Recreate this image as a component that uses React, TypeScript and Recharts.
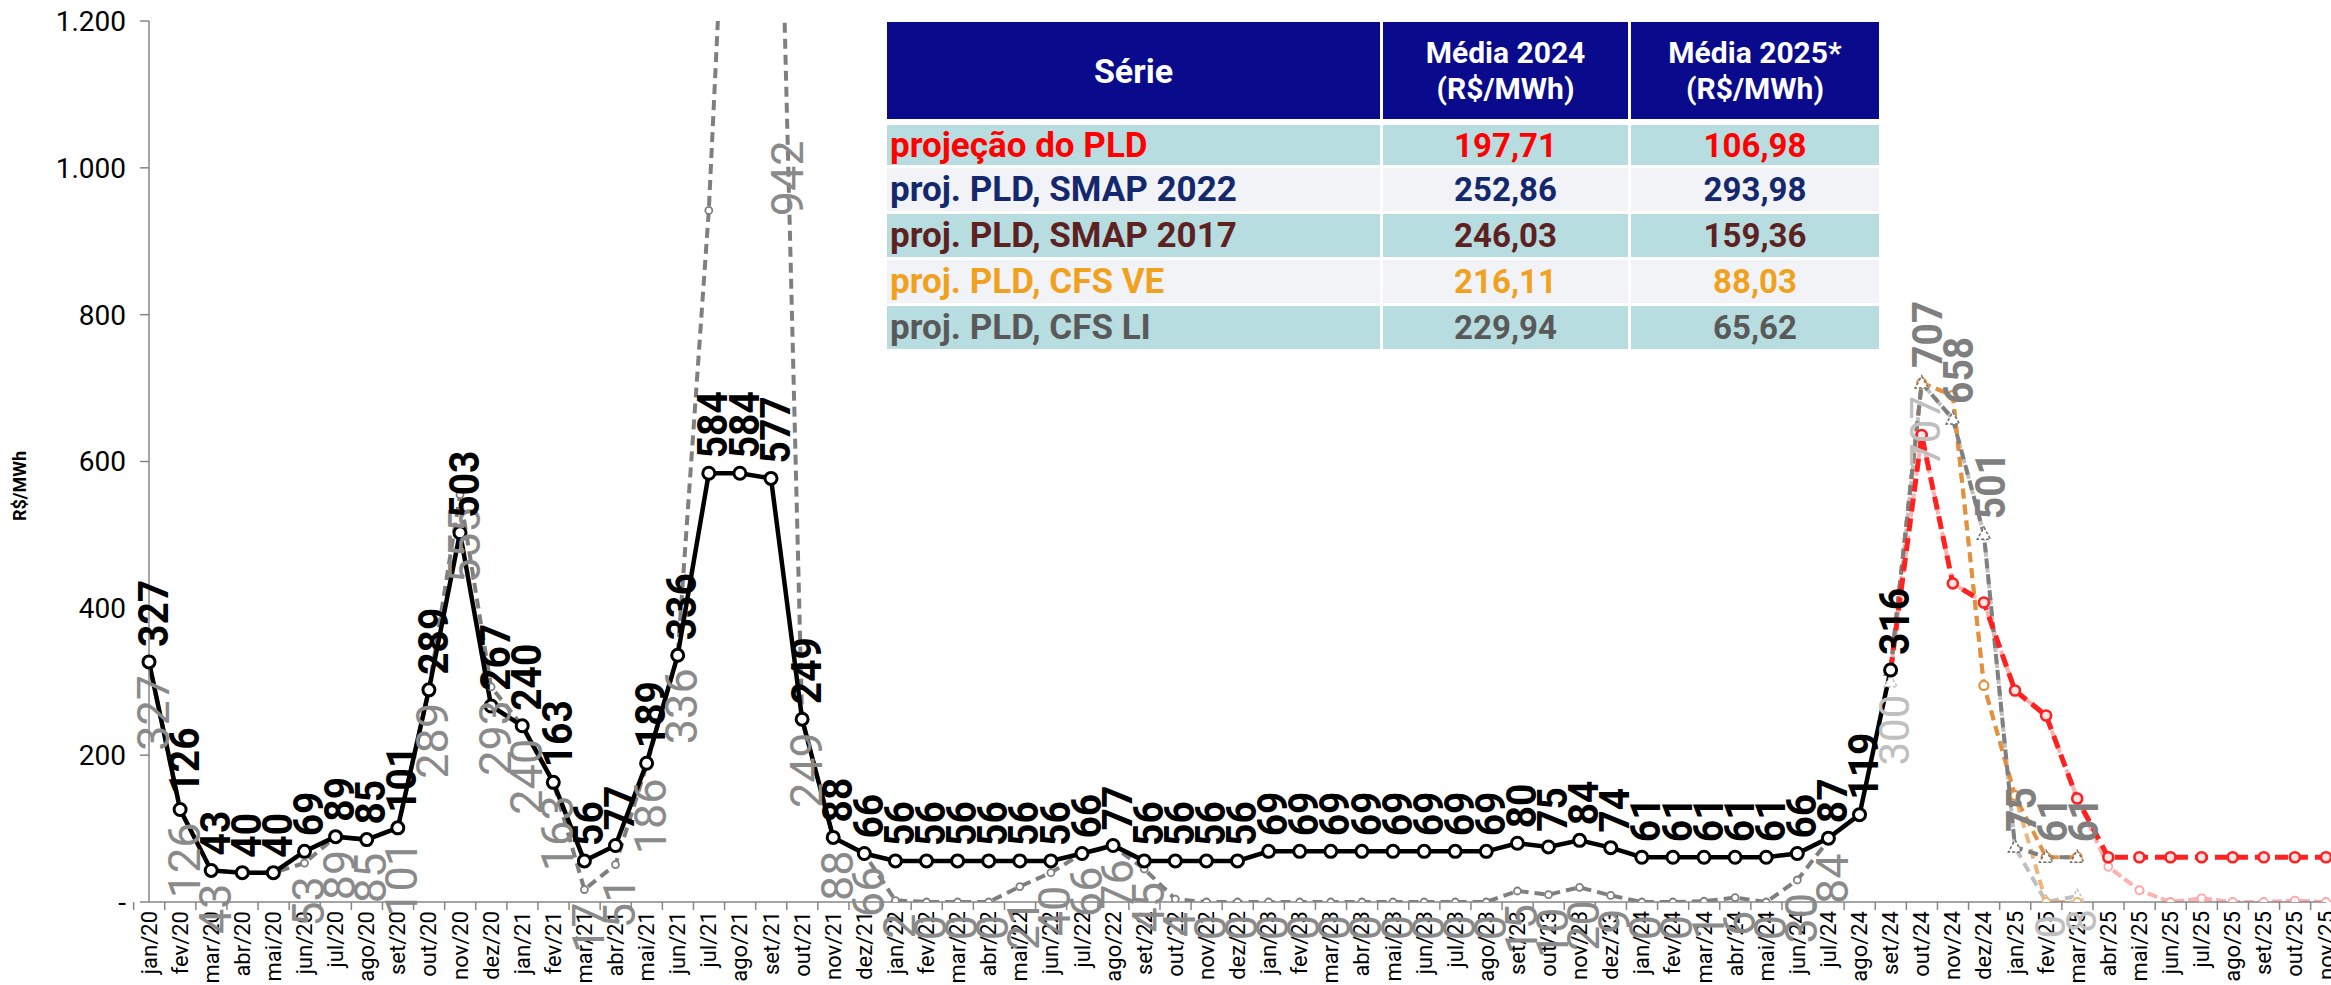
import React from 'react';
import { LineChart, Line, XAxis, YAxis, LabelList } from 'recharts';

const monthAbbr = ['jan', 'fev', 'mar', 'abr', 'mai', 'jun', 'jul', 'ago', 'set', 'out', 'nov', 'dez'];
const years = ['20', '21', '22', '23', '24', '25'];
const months = years.flatMap((y) => monthAbbr.map((m) => `${m}/${y}`)).slice(0, 71);

// PLD realizado, jan/20 - set/24
const pldHist = [
  327, 126, 43, 40, 40, 69, 89, 85, 101, 289, 503, 267,
  240, 163, 56, 77, 189, 336, 584, 584, 577, 249, 88, 66,
  56, 56, 56, 56, 56, 56, 66, 77, 56, 56, 56, 56,
  69, 69, 69, 69, 69, 69, 69, 69, 80, 75, 84, 74,
  61, 61, 61, 61, 61, 66, 87, 119, 316,
];

// CMO realizado, jan/20 - jul/24
const cmoHist = [
  327, 126, 43, 40, 40, 53, 89, 85, 101, 289, 555, 293,
  240, 163, 17, 51, 186, 336, 942, 1830, 1940, 249, 88, 66,
  2, 0, 0, 0, 21, 40, 66, 76, 45, 4, 0, 0,
  0, 0, 0, 0, 0, 0, 0, 0, 15, 10, 20, 9,
  0, 0, 1, 6, 0, 30, 84,
];

// projeções a partir de set/24
const projStart = 56;
const projPld = [316, 636, 434, 408, 288, 254, 141, 61, 61, 61, 61, 61, 61, 61, 61];
const projCmo = [316, 636, 434, 408, 288, 254, 141, 48, 16, 0, 5, 0, 0, 2, 0];
const cfsVePld = [316, 707, 690, 295, 145, 61, 61];
const cfsVeCmo = [316, 707, 690, 295, 145, 0, 0];
const cfsLiPld = [316, 707, 658, 501, 75, 61, 61];
const cfsLiCmo = [300, 707, 658, 501, 75, 0, 8];

const yTicks = [0, 200, 400, 600, 800, 1000, 1200];

// tabela
const serieNames = ['projeção do PLD', 'proj. PLD, SMAP 2022', 'proj. PLD, SMAP 2017', 'proj. PLD, CFS VE', 'proj. PLD, CFS LI'];
const media2024 = [197.71, 252.86, 246.03, 216.11, 229.94];
const media2025 = [106.98, 293.98, 159.36, 88.03, 65.62];
const serieColors = ['#FF0000', '#14286E', '#5E2121', '#F0A21E', '#595959'];

const at = (vals: number[], start: number, i: number) =>
  i >= start && i - start < vals.length ? vals[i - start] : null;

const data = months.map((m, i) => ({
  month: m,
  pld: at(pldHist, 0, i),
  cmo: at(cmoHist, 0, i),
  projPld: at(projPld, projStart, i),
  projCmo: at(projCmo, projStart, i),
  vePld: at(cfsVePld, projStart, i),
  veCmo: at(cfsVeCmo, projStart, i),
  liPld: at(cfsLiPld, projStart, i),
  liCmo: at(cfsLiCmo, projStart, i),
}));

const W = 2331;
const H = 985;
const M = { top: 21, right: 5, bottom: 0, left: 0 };
const Y_W = 149;
const X_H = 83;
const band = (W - M.right - Y_W) / months.length;
const axisGray = '#868686';
const FONT = 'Roboto, "Liberation Sans", sans-serif';

const fmtY = (v: number) => {
  if (v === 0) return '-';
  if (v >= 1000) return `${Math.floor(v / 1000)}.${String(v % 1000).padStart(3, '0')}`;
  return String(v);
};

const fmtBr = (v: number) => v.toFixed(2).replace('.', ',');

const XTick = (p: any) => {
  const { x, y, payload, index } = p;
  const ty = y + 9;
  return (
    <g>
      <line x1={x - band / 2} x2={x - band / 2} y1={y} y2={y + 8} stroke={axisGray} strokeWidth={1.5} />
      {index === months.length - 1 && (
        <line x1={x + band / 2} x2={x + band / 2} y1={y} y2={y + 8} stroke={axisGray} strokeWidth={1.5} />
      )}
      <text
        x={x}
        y={ty}
        transform={`rotate(-90 ${x} ${ty})`}
        textAnchor="end"
        dominantBaseline="central"
        fontSize={22}
        fontFamily={FONT}
        fill="#000"
      >
        {payload.value}
      </text>
    </g>
  );
};

type LabelOpts = {
  color: string;
  bold?: boolean;
  below?: boolean;
  size: number;
  sy?: number;
  dx?: number;
  show?: number[];
  moved?: Record<number, { dx: number; dy: number }>;
};

const rotLabel = (o: LabelOpts) => (p: any) => {
  const { x, y, value, index } = p;
  if (value == null || x == null || y == null || value > 1200) return null;
  if (o.show && !o.show.includes(index)) return null;
  const mv = o.moved?.[index];
  const lx = x + (mv ? mv.dx : o.dx ?? 4);
  const ly = (o.below ? y + 13 : y - 15) + (mv ? mv.dy : 0);
  return (
    <text
      key={`l-${index}`}
      x={0}
      y={0}
      transform={`translate(${lx} ${ly}) rotate(-90) scale(1 ${o.sy ?? 1})`}
      textAnchor={o.below ? 'end' : 'start'}
      dominantBaseline="central"
      fontSize={o.size}
      fontWeight={o.bold ? 700 : 400}
      fontFamily={FONT}
      fill={o.color}
    >
      {value}
    </text>
  );
};

const circleDot = (stroke: string, r: number, sw: number, fill = '#fff') => (p: any) => {
  const { cx, cy, index, value } = p;
  if (value == null || cy == null || cx == null) return <g key={`d-${index}`} />;
  return <circle key={`d-${index}`} cx={cx} cy={cy} r={r} stroke={stroke} strokeWidth={sw} fill={fill} />;
};

const triDot = (stroke: string) => (p: any) => {
  const { cx, cy, index, value } = p;
  if (value == null || cy == null || cx == null) return <g key={`t-${index}`} />;
  return (
    <path
      key={`t-${index}`}
      d={`M${cx},${cy - 7} L${cx + 6.5},${cy + 5} L${cx - 6.5},${cy + 5} Z`}
      fill="#fff"
      stroke={stroke}
      strokeWidth={1.5}
      strokeDasharray="3 2"
    />
  );
};

const YLabel = () => (
  <text
    x={19}
    y={486}
    transform="rotate(-90 19 486)"
    textAnchor="middle"
    dominantBaseline="central"
    fontSize={18}
    fontWeight={700}
    fontFamily={FONT}
    fill="#000"
  >
    R$/MWh
  </text>
);

const SummaryTable = () => {
  const cell: React.CSSProperties = {
    display: 'flex',
    alignItems: 'center',
    justifyContent: 'center',
    fontWeight: 700,
    fontSize: 33,
  };
  const head: React.CSSProperties = {
    ...cell,
    background: '#0A0A8C',
    color: '#fff',
    fontSize: 30,
    flexDirection: 'column',
    lineHeight: 1.2,
  };
  return (
    <div
      style={{
        position: 'absolute',
        left: 887,
        top: 22,
        display: 'grid',
        gridTemplateColumns: '493px 245px 248px',
        gridTemplateRows: '97px repeat(5, 43px)',
        columnGap: 3,
        rowGap: 3,
        fontFamily: FONT,
      }}
    >
      <div style={{ ...cell, background: '#0A0A8C', color: '#fff', fontSize: 34 }}>Série</div>
      <div style={head}>
        <span>Média 2024</span>
        <span>(R$/MWh)</span>
      </div>
      <div style={head}>
        <span>Média 2025*</span>
        <span>(R$/MWh)</span>
      </div>
      {serieNames.map((name, i) => {
        const bg = i % 2 === 0 ? '#B7DDE0' : '#F2F3F7';
        const c = serieColors[i];
        const mt = i === 0 ? 3 : 0;
        return (
          <React.Fragment key={name}>
            <div style={{ ...cell, fontSize: 35, justifyContent: 'flex-start', paddingLeft: 3, background: bg, color: c, marginTop: mt }}>
              {name}
            </div>
            <div style={{ ...cell, background: bg, color: c, marginTop: mt }}>{fmtBr(media2024[i])}</div>
            <div style={{ ...cell, background: bg, color: c, marginTop: mt }}>{fmtBr(media2025[i])}</div>
          </React.Fragment>
        );
      })}
    </div>
  );
};

export default function App() {
  return (
    <div style={{ position: 'fixed', left: 0, top: 0, width: W, height: H, background: '#fff' }}>
      <LineChart width={W} height={H} data={data} margin={M}>
        <XAxis
          dataKey="month"
          interval={0}
          height={X_H}
          tickSize={0}
          tickMargin={0}
          tickLine={false}
          axisLine={{ stroke: axisGray, strokeWidth: 1.5 }}
          tick={<XTick />}
        />
        <YAxis
          width={Y_W}
          domain={[0, 1200]}
          ticks={yTicks}
          allowDataOverflow
          tickFormatter={fmtY}
          tickSize={9}
          tickMargin={14}
          tickLine={{ stroke: axisGray, strokeWidth: 1.5 }}
          axisLine={{ stroke: axisGray, strokeWidth: 1.5 }}
          tick={{ fill: '#000', fontSize: 28, fontFamily: FONT }}
          label={<YLabel />}
        />

        <Line
          dataKey="cmo"
          type="linear"
          stroke="#7F7F7F"
          strokeWidth={4}
          strokeDasharray="10 6"
          dot={circleDot('#7F7F7F', 3.5, 1.8)}
          activeDot={false}
          isAnimationActive={false}
        >
          <LabelList
            dataKey="cmo"
            content={rotLabel({
              color: '#8A8A8A',
              below: true,
              size: 45,
              show: cmoHist.map((_, i) => i).filter((i) => i !== 3 && i !== 4),
              moved: { 18: { dx: 79, dy: -83 } },
            })}
          />
        </Line>
        <Line
          dataKey="liCmo"
          type="linear"
          stroke="#BFBFBF"
          strokeWidth={4}
          strokeDasharray="10 6"
          dot={triDot('#BFBFBF')}
          activeDot={false}
          isAnimationActive={false}
        >
          <LabelList dataKey="liCmo" content={rotLabel({ color: '#BFBFBF', below: true, size: 42, show: [56, 57, 61, 62] })} />
        </Line>
        <Line
          dataKey="projCmo"
          type="linear"
          stroke="#FFB0B0"
          strokeWidth={4}
          strokeDasharray="10 4"
          dot={circleDot('#FFA5A5', 4, 1.8)}
          activeDot={false}
          isAnimationActive={false}
        />
        <Line
          dataKey="veCmo"
          type="linear"
          stroke="#F0B478"
          strokeWidth={4}
          strokeDasharray="10 6"
          dot={circleDot('#F0B478', 4, 2)}
          activeDot={false}
          isAnimationActive={false}
        />
        <Line
          dataKey="vePld"
          type="linear"
          stroke="#E3913F"
          strokeWidth={4}
          strokeDasharray="10 6"
          dot={circleDot('#E3913F', 4.5, 2.2)}
          activeDot={false}
          isAnimationActive={false}
        />
        <Line
          dataKey="liPld"
          type="linear"
          stroke="#7F7F7F"
          strokeWidth={4}
          strokeDasharray="10 6"
          dot={triDot('#6F6F6F')}
          activeDot={false}
          isAnimationActive={false}
        >
          <LabelList
            dataKey="liPld"
            content={rotLabel({ color: '#7F7F7F', bold: true, size: 39, sy: 1.1, dx: 6, show: [57, 58, 59, 60, 61, 62] })}
          />
        </Line>
        <Line
          dataKey="projPld"
          type="linear"
          stroke="#FF2020"
          strokeWidth={5}
          strokeDasharray="13 7"
          dot={circleDot('#FF2020', 5, 2.6, '#FFE5E5')}
          activeDot={false}
          isAnimationActive={false}
        />
        <Line
          dataKey="pld"
          type="linear"
          stroke="#000"
          strokeWidth={4.5}
          dot={circleDot('#000', 6, 3)}
          activeDot={false}
          isAnimationActive={false}
        >
          <LabelList dataKey="pld" content={rotLabel({ color: '#000', bold: true, size: 39, sy: 1.1 })} />
        </Line>
      </LineChart>
      <SummaryTable />
    </div>
  );
}
